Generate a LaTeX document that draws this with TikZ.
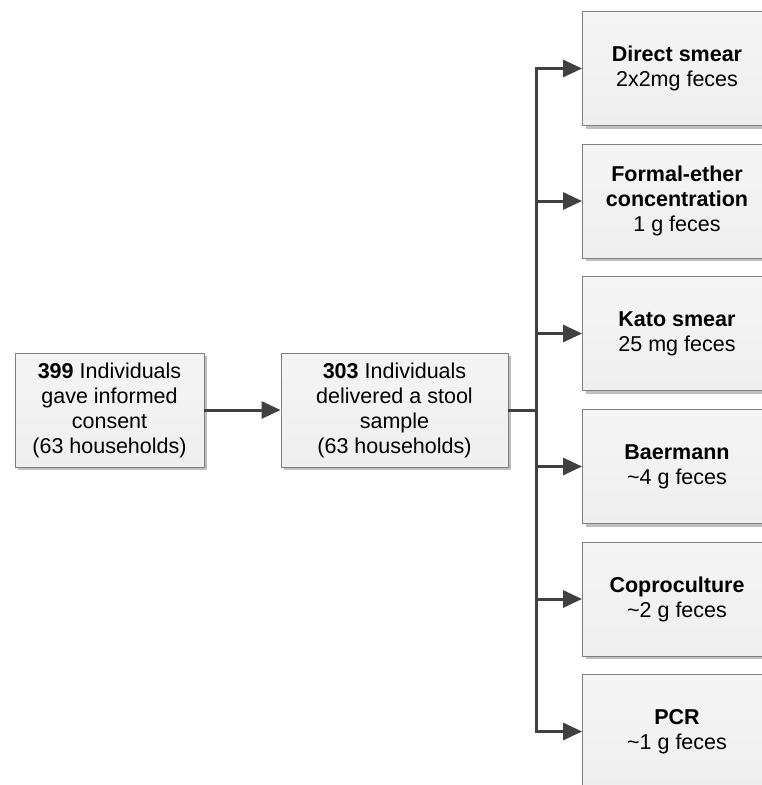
\documentclass[tikz,border=0pt]{standalone}
\usepackage{fontspec}
\setmainfont{Liberation Sans}
\usepackage{tikz}
\usetikzlibrary{arrows.meta,shadows}
\definecolor{boxline}{RGB}{128,128,128}
\definecolor{boxfill}{RGB}{239,239,239}
\definecolor{arrgray}{RGB}{64,64,64}
\newcommand{\bx}[1]{\textbf{#1}}

\begin{document}
\begin{tikzpicture}[x=1pt,y=-1pt,
    box/.style={draw=boxline,line width=0.9pt,top color=white!96!black,bottom color=boxfill,
      minimum width=189pt,minimum height=114pt,inner sep=0pt,align=center,
      font=\fontsize{21.5pt}{25pt}\selectfont,
      drop shadow={shadow xshift=3pt,shadow yshift=-3pt,fill=black!25,opacity=1}},
    arr/.style={draw=arrgray,line width=3pt,-{Triangle[length=19pt,width=17pt]}},
    lnk/.style={draw=arrgray,line width=3pt}]
  \useasboundingbox (0,0) rectangle (762,785);
  % the two boxes on the left
  \node[box] (consent) at (109.5,410) {\bx{399} Individuals\\gave informed\\consent\\(63 households)};
  \node[box,minimum width=227pt] (stool) at (394.5,410) {\bx{303} Individuals\\delivered a stool\\sample\\(63 households)};
  % the six methods
  \node[box] (direct) at (677,68.5) {\bx{Direct smear}\\2x2mg feces};
  \node[box] (formal) at (677,201) {\bx{Formal-ether}\\\bx{concentration}\\1 g feces};
  \node[box] (kato)   at (677,333.5) {\bx{Kato smear}\\25 mg feces};
  \node[box] (baer)   at (677,466.5) {\bx{Baermann}\\\textasciitilde4 g feces};
  \node[box] (copro)  at (677,599) {\bx{Coproculture}\\\textasciitilde2 g feces};
  \node[box] (pcr)    at (677,731.5) {\bx{PCR}\\\textasciitilde1 g feces};
  \coordinate (split) at (536,410);
  % connectors
  \draw[arr] (consent.east) -- (stool.west);
  \draw[lnk] (stool.east) -- (split);
  \draw[arr] (split) |- (direct.west);
  \draw[arr] (split) |- (formal.west);
  \draw[arr] (split) |- (kato.west);
  \draw[arr] (split) |- (baer.west);
  \draw[arr] (split) |- (copro.west);
  \draw[arr] (split) |- (pcr.west);
\end{tikzpicture}
\end{document}
